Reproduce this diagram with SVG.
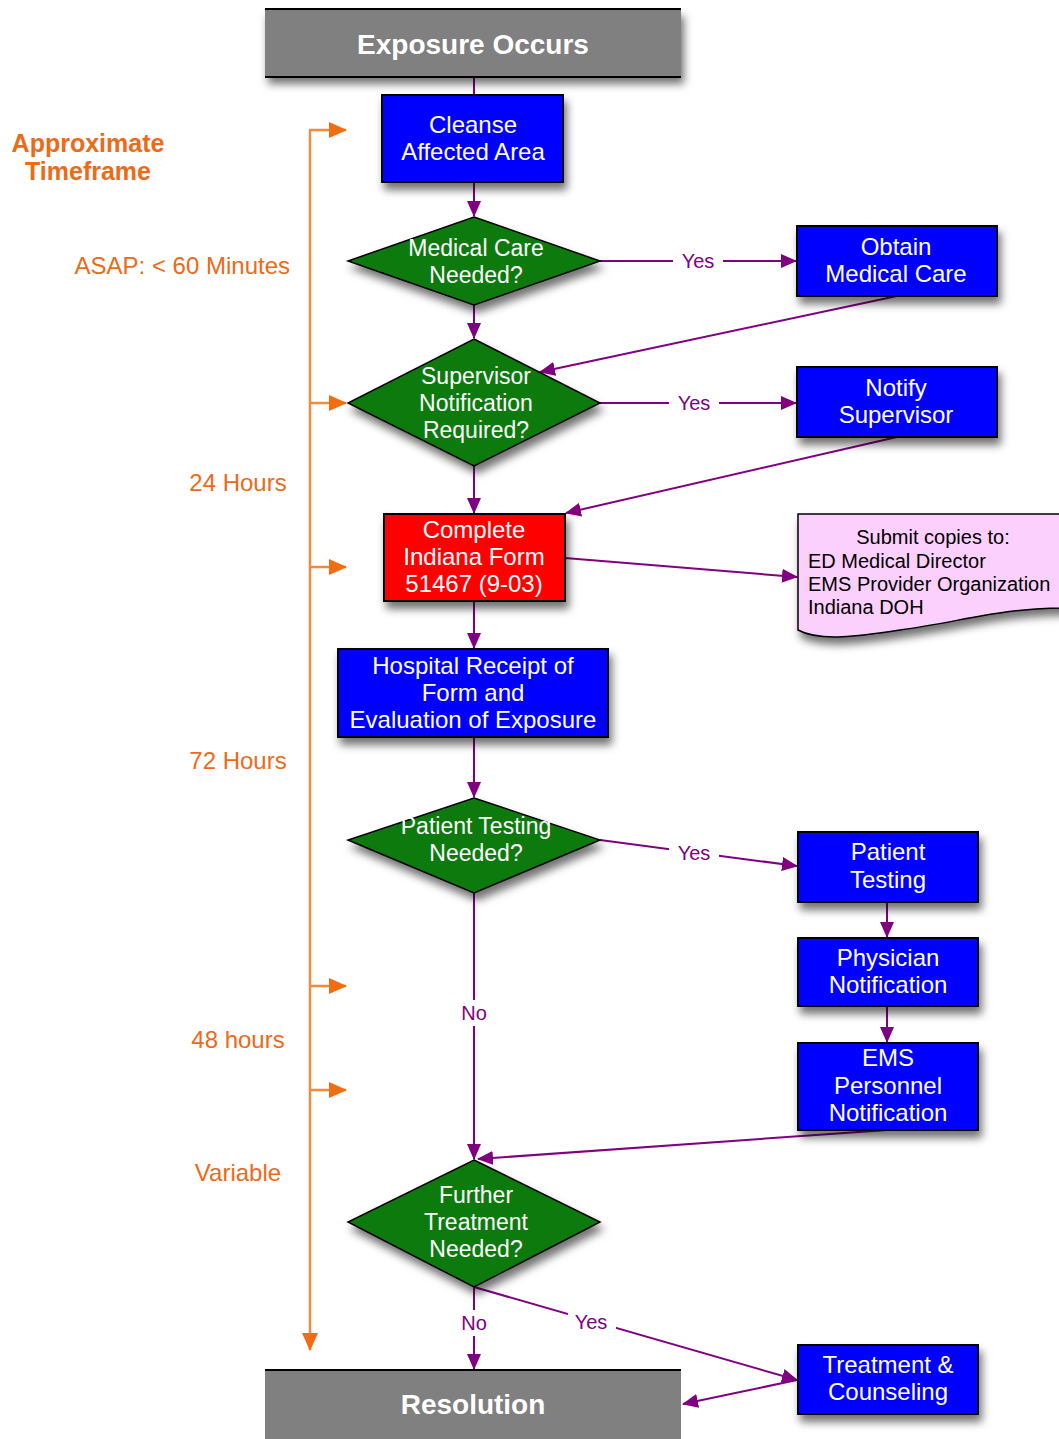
<svg xmlns="http://www.w3.org/2000/svg" width="1059" height="1439" viewBox="0 0 1059 1439">
<defs>
<filter id="sh" x="-20%" y="-20%" width="140%" height="160%">
<feDropShadow dx="3" dy="7" stdDeviation="4" flood-color="#000" flood-opacity="0.55"/>
</filter>
<marker id="pa" markerUnits="userSpaceOnUse" markerWidth="16" markerHeight="14" refX="15" refY="7" orient="auto">
<path d="M0,0 L16,7 L0,14 Z" fill="#800080"/>
</marker>
<marker id="oa" markerUnits="userSpaceOnUse" markerWidth="18" markerHeight="16" refX="17" refY="8" orient="auto">
<path d="M0,0 L18,8 L0,16 Z" fill="#f26d12"/>
</marker>
<style>
.t{font-family:"Liberation Sans",Arial,sans-serif;fill:#fff;text-anchor:middle}
.n{font-size:24px}
.d{font-size:23px}
.big{font-size:28px;font-weight:bold}
.o{font-family:"Liberation Sans",Arial,sans-serif;fill:#ec6a18;font-size:24px}
.ob{font-weight:bold;font-size:25px}
.lbl{font-family:"Liberation Sans",Arial,sans-serif;fill:#800080;font-size:20px;text-anchor:middle}
.note{font-family:"Liberation Sans",Arial,sans-serif;fill:#000;font-size:20px}
.blue{fill:#0000ff;stroke:#000;stroke-width:2}
.red{fill:#ff0000;stroke:#000;stroke-width:2}
.dia{fill:#0b7a0b;stroke:#000;stroke-width:1.5}
.c{stroke:#800080;stroke-width:2;fill:none}
.oc{stroke:#f08a3c;stroke-width:2.5;fill:none}
</style>
</defs>
<rect width="1059" height="1439" fill="#fff"/>

<g id="timeframe">
<text class="o ob" x="88" y="152" text-anchor="middle">Approximate</text>
<text class="o ob" x="88" y="180" text-anchor="middle">Timeframe</text>
<text class="o" x="290" y="274" text-anchor="end">ASAP: &lt; 60 Minutes</text>
<text class="o" x="238" y="491" text-anchor="middle">24 Hours</text>
<text class="o" x="238" y="769" text-anchor="middle">72 Hours</text>
<text class="o" x="238" y="1048" text-anchor="middle">48 hours</text>
<text class="o" x="238" y="1181" text-anchor="middle">Variable</text>
<path class="oc" d="M310,130 V1350" marker-end="url(#oa)"/>
<path class="oc" d="M309,130 H346" marker-end="url(#oa)"/>
<path class="oc" d="M310,403 H346" marker-end="url(#oa)"/>
<path class="oc" d="M310,567 H346" marker-end="url(#oa)"/>
<path class="oc" d="M310,986 H346" marker-end="url(#oa)"/>
<path class="oc" d="M310,1090 H346" marker-end="url(#oa)"/>
</g>

<g id="connectors">
<path class="c" d="M474,77 V95"/>
<path class="c" d="M474,182 V216" marker-end="url(#pa)"/>
<path class="c" d="M600,261 H796" marker-end="url(#pa)"/>
<path class="c" d="M474,305 V338" marker-end="url(#pa)"/>
<path class="c" d="M897,296 L540,372" marker-end="url(#pa)"/>
<path class="c" d="M600,403 H796" marker-end="url(#pa)"/>
<path class="c" d="M474,466 V513" marker-end="url(#pa)"/>
<path class="c" d="M897,437 L566,513" marker-end="url(#pa)"/>
<path class="c" d="M565,558 L797,577" marker-end="url(#pa)"/>
<path class="c" d="M474,601 V648" marker-end="url(#pa)"/>
<path class="c" d="M474,737 V797" marker-end="url(#pa)"/>
<path class="c" d="M600,840 L797,866" marker-end="url(#pa)"/>
<path class="c" d="M887,902 V937" marker-end="url(#pa)"/>
<path class="c" d="M887,1006 V1042" marker-end="url(#pa)"/>
<path class="c" d="M474,893 V1159" marker-end="url(#pa)"/>
<path class="c" d="M887,1130 L478,1159" marker-end="url(#pa)"/>
<path class="c" d="M474,1287 V1369" marker-end="url(#pa)"/>
<path class="c" d="M474,1287 L797,1380" marker-end="url(#pa)"/>
<path class="c" d="M797,1380 L683,1404" marker-end="url(#pa)"/>
<rect x="673" y="248" width="50" height="26" fill="#fff"/>
<text class="lbl" x="698" y="268">Yes</text>
<rect x="669" y="390" width="50" height="26" fill="#fff"/>
<text class="lbl" x="694" y="410">Yes</text>
<rect x="669" y="840" width="50" height="26" fill="#fff"/>
<text class="lbl" x="694" y="860">Yes</text>
<rect x="460" y="1000" width="28" height="26" fill="#fff"/>
<text class="lbl" x="474" y="1020">No</text>
<rect x="460" y="1310" width="28" height="26" fill="#fff"/>
<text class="lbl" x="474" y="1330">No</text>
<rect x="568" y="1309" width="48" height="26" fill="#fff"/>
<text class="lbl" x="591" y="1329">Yes</text>
</g>

<g id="exposure">
<rect x="265" y="9" width="416" height="68" fill="#808080" filter="url(#sh)"/>
<path d="M265,9 H681 M265,77 H681" stroke="#000" stroke-width="2"/>
<text class="t big" x="473" y="54">Exposure Occurs</text>
</g>

<g id="cleanse">
<rect class="blue" x="382" y="95" width="181" height="87" filter="url(#sh)"/>
<text class="t n" x="473" y="133">Cleanse</text>
<text class="t n" x="473" y="160">Affected Area</text>
</g>

<g id="medical-care-needed">
<polygon class="dia" points="474,217 600,261 474,305 348,261" filter="url(#sh)"/>
<text class="t d" x="476" y="256">Medical Care</text>
<text class="t d" x="476" y="283">Needed?</text>
</g>

<g id="obtain-medical-care">
<rect class="blue" x="797" y="226" width="200" height="70" filter="url(#sh)"/>
<text class="t n" x="896" y="255">Obtain</text>
<text class="t n" x="896" y="282">Medical Care</text>
</g>

<g id="supervisor-notification">
<polygon class="dia" points="474,339 600,403 474,466 348,403" filter="url(#sh)"/>
<text class="t d" x="476" y="384">Supervisor</text>
<text class="t d" x="476" y="411">Notification</text>
<text class="t d" x="476" y="438">Required?</text>
</g>

<g id="notify-supervisor">
<rect class="blue" x="797" y="367" width="200" height="70" filter="url(#sh)"/>
<text class="t n" x="896" y="396">Notify</text>
<text class="t n" x="896" y="423">Supervisor</text>
</g>

<g id="complete-form">
<rect class="red" x="384" y="514" width="181" height="87" filter="url(#sh)"/>
<text class="t n" x="474" y="538">Complete</text>
<text class="t n" x="474" y="565">Indiana Form</text>
<text class="t n" x="474" y="592">51467 (9-03)</text>
</g>

<g id="submit-copies">
<path d="M798,514 H1064 V608 C1000,608 960,622 900,630 C860,636 820,642 798,630 Z" fill="#fcd0fc" stroke="#000" stroke-width="1.5" filter="url(#sh)"/>
<text class="note" x="933" y="544" text-anchor="middle">Submit copies to:</text>
<text class="note" x="808" y="568">ED Medical Director</text>
<text class="note" x="808" y="591">EMS Provider Organization</text>
<text class="note" x="808" y="614">Indiana DOH</text>
</g>

<g id="hospital-receipt">
<rect class="blue" x="338" y="649" width="270" height="88" filter="url(#sh)"/>
<text class="t n" x="473" y="674">Hospital Receipt of</text>
<text class="t n" x="473" y="701">Form and</text>
<text class="t n" x="473" y="728">Evaluation of Exposure</text>
</g>

<g id="patient-testing-needed">
<polygon class="dia" points="474,798 600,840 474,893 348,840" filter="url(#sh)"/>
<text class="t d" x="476" y="834">Patient Testing</text>
<text class="t d" x="476" y="861">Needed?</text>
</g>

<g id="patient-testing">
<rect class="blue" x="798" y="832" width="180" height="70" filter="url(#sh)"/>
<text class="t n" x="888" y="860">Patient</text>
<text class="t n" x="888" y="888">Testing</text>
</g>

<g id="physician-notification">
<rect class="blue" x="798" y="938" width="180" height="68" filter="url(#sh)"/>
<text class="t n" x="888" y="966">Physician</text>
<text class="t n" x="888" y="993">Notification</text>
</g>

<g id="ems-notification">
<rect class="blue" x="798" y="1043" width="180" height="87" filter="url(#sh)"/>
<text class="t n" x="888" y="1066">EMS</text>
<text class="t n" x="888" y="1094">Personnel</text>
<text class="t n" x="888" y="1121">Notification</text>
</g>

<g id="further-treatment">
<polygon class="dia" points="474,1160 600,1222 474,1287 348,1222" filter="url(#sh)"/>
<text class="t d" x="476" y="1203">Further</text>
<text class="t d" x="476" y="1230">Treatment</text>
<text class="t d" x="476" y="1257">Needed?</text>
</g>

<g id="treatment-counseling">
<rect class="blue" x="798" y="1345" width="180" height="69" filter="url(#sh)"/>
<text class="t n" x="888" y="1373">Treatment &amp;</text>
<text class="t n" x="888" y="1400">Counseling</text>
</g>

<g id="resolution">
<rect x="265" y="1370" width="416" height="75" fill="#808080"/>
<path d="M265,1370 H681" stroke="#000" stroke-width="2"/>
<text class="t big" x="473" y="1414">Resolution</text>
</g>
</svg>
